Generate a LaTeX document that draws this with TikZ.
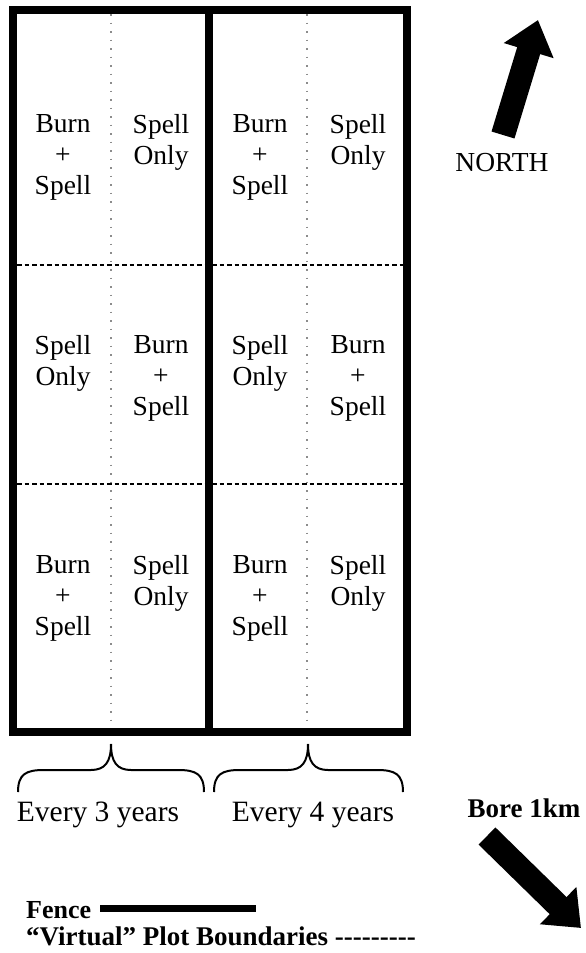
\documentclass[tikz,border=0pt]{standalone}
\usepackage{fontspec}
\setmainfont{Liberation Serif}
\usetikzlibrary{arrows.meta}

\begin{document}
\begin{tikzpicture}[x=1pt, y=-1pt,
    fence/.style={line width=8pt, line cap=rect},
    virtual/.style={line width=2pt, dash pattern=on 4.5pt off 3pt},
    split/.style={line width=1.5pt, black!45, dash pattern=on 1.5pt off 7pt},
    cell/.style={anchor=north, inner sep=0pt, align=center,
                 font=\fontsize{27.5}{31}\selectfont},
    brace/.style={line width=2pt},
    label/.style={inner sep=0pt, font=\fontsize{29.5}{31}\selectfont},
    compass/.style={line width=24pt, -{Triangle[width=50pt,length=32pt]}}]

    \useasboundingbox (0,0) rectangle (586,953);

    % split of each fenced plot, virtual boundaries
    \foreach \x in {111, 307} \draw[split] (\x,14) -- (\x,728);
    \foreach \y in {265, 484} \draw[virtual] (17,\y) -- (403,\y);

    % fence
    \draw[fence] (12.5,10) rectangle (407,732);
    \draw[fence] (209,10) -- (209,732);

    % treatments
    \foreach \x/\y/\t in {63/114/{Burn\\+\\Spell}, 161/114/{Spell\\Only},
                          260/114/{Burn\\+\\Spell}, 358/114/{Spell\\Only},
                          63/335/{Spell\\Only}, 161/335/{Burn\\+\\Spell},
                          260/335/{Spell\\Only}, 358/335/{Burn\\+\\Spell},
                          63/555/{Burn\\+\\Spell}, 161/555/{Spell\\Only},
                          260/555/{Burn\\+\\Spell}, 358/555/{Spell\\Only}}
      \node[cell] at (\x,\y) {\t};

    % burning interval
    \foreach \l/\m/\r in {18/111/204, 214/308/403} {
      \draw[brace] (\l,792) .. controls (\l,774) and (\l+8,770) .. (\l+26,770)
        -- (\m-20,770) .. controls (\m-6,770) and (\m,762) .. (\m,744);
      \draw[brace] (\r,792) .. controls (\r,774) and (\r-8,770) .. (\r-26,770)
        -- (\m+20,770) .. controls (\m+6,770) and (\m,762) .. (\m,744);
    }
    \node[label] (every3) at (98,815) {Every 3 years};
    \node[label] (every4) at (313,815) {Every 4 years};

    % north
    \coordinate (ntail) at (503,135);
    \coordinate (nhead) at (538,20);
    \draw[compass] (ntail) -- (nhead);
    \node[label, font=\fontsize{27.5}{31}\selectfont] (north) at (502,163) {NORTH};

    % bore
    \node[label, font=\bfseries\fontsize{27}{31}\selectfont] (bore) at (524,808) {Bore 1km};
    \coordinate (btail) at (487,836);
    \coordinate (bhead) at (581,928);
    \draw[compass] (btail) -- (bhead);

    % legend
    \node[label, anchor=west, font=\bfseries\fontsize{26}{31}\selectfont] (fence) at (26,910) {Fence};
    \coordinate (fstart) at (100,908);
    \coordinate (fend) at (256,908);
    \draw[line width=7pt] (fstart) -- (fend);
    \node[label, anchor=west, font=\bfseries\fontsize{27}{31}\selectfont] (virtual) at (26,936)
      {``Virtual'' Plot Boundaries -{}-{}-{}-{}-{}-{}-{}-{}-};
\end{tikzpicture}
\end{document}
